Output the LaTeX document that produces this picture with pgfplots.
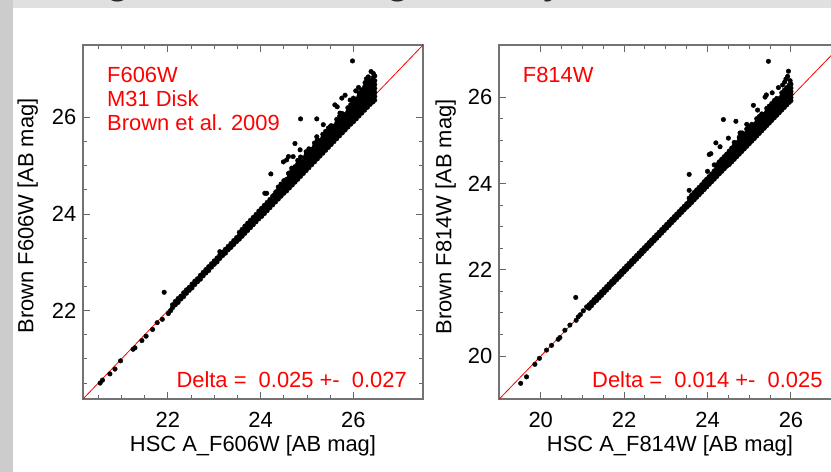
\documentclass[border=0pt]{standalone}
\usepackage{pgfplots}
\pgfplotsset{compat=1.18}
\usepackage{pgfplotstable}
\usepackage{fontspec}
\setmainfont{Liberation Sans}

% Left panel (F606W): dense band, columns = rows of the band (nan = empty)
\pgfplotstableread{
x a b c d e f g
22.10 22.06 22.12 nan nan nan nan nan
22.16 22.12 22.19 nan nan nan nan nan
22.22 22.17 22.25 nan nan nan nan nan
22.28 22.24 22.30 nan nan nan nan nan
22.34 22.29 22.37 nan nan nan nan nan
22.40 22.36 22.43 nan nan nan nan nan
22.46 22.42 22.48 nan nan nan nan nan
22.52 22.47 22.55 nan nan nan nan nan
22.58 22.54 22.61 nan nan nan nan nan
22.64 22.60 22.66 nan nan nan nan nan
22.70 22.65 22.73 nan nan nan nan nan
22.76 22.72 22.79 nan nan nan nan nan
22.82 22.78 22.85 nan nan nan nan nan
22.88 22.83 22.91 nan nan nan nan nan
22.94 22.90 22.97 nan nan nan nan nan
23.00 22.96 23.03 nan nan nan nan nan
23.06 23.01 23.09 nan nan nan nan nan
23.12 23.08 23.15 nan nan nan nan nan
23.18 23.14 23.21 nan nan nan nan nan
23.24 23.19 23.27 nan nan nan nan nan
23.30 23.26 23.33 nan nan nan nan nan
23.36 23.31 23.39 nan nan nan nan nan
23.42 23.37 23.45 nan nan nan nan nan
23.48 23.43 23.51 nan nan nan nan nan
23.54 23.48 23.55 23.62 nan nan nan nan
23.60 23.54 23.61 23.68 nan nan nan nan
23.66 23.60 23.67 23.75 nan nan nan nan
23.72 23.66 23.73 23.81 nan nan nan nan
23.78 23.72 23.79 23.87 nan nan nan nan
23.84 23.78 23.85 23.93 nan nan nan nan
23.90 23.84 23.91 23.99 nan nan nan nan
23.96 23.90 23.97 24.06 nan nan nan nan
24.02 23.95 24.03 24.12 nan nan nan nan
24.08 24.01 24.09 24.18 nan nan nan nan
24.14 24.07 24.15 24.24 nan nan nan nan
24.20 24.13 24.21 24.30 nan nan nan nan
24.26 24.19 24.27 24.37 nan nan nan nan
24.32 24.25 24.33 24.43 nan nan nan nan
24.38 24.31 24.39 24.49 24.56 nan nan nan
24.44 24.37 24.45 24.55 24.62 nan nan nan
24.50 24.43 24.51 24.60 24.69 nan nan nan
24.56 24.48 24.56 24.64 24.72 nan nan nan
24.62 24.54 24.62 24.70 24.78 24.85 nan nan
24.68 24.60 24.68 24.76 24.84 24.91 nan nan
24.74 24.66 24.74 24.82 24.90 24.98 nan nan
24.80 24.72 24.80 24.88 24.96 25.04 25.11 nan
24.86 24.78 24.86 24.94 25.02 25.10 25.18 nan
24.92 24.84 24.92 25.00 25.08 25.16 nan nan
24.98 24.90 24.98 25.06 25.14 25.22 25.29 nan
25.04 24.96 25.04 25.12 25.20 25.28 25.35 nan
25.10 25.02 25.10 25.18 25.26 25.34 nan nan
25.16 25.08 25.16 25.24 25.32 25.40 25.47 nan
25.22 25.14 25.22 25.30 25.38 25.46 25.53 nan
25.28 25.20 25.28 25.36 25.44 25.52 nan nan
25.34 25.26 25.34 25.42 25.50 25.58 25.65 nan
25.40 25.32 25.40 25.48 25.56 25.64 25.71 nan
25.46 25.38 25.46 25.54 25.62 25.70 25.78 nan
25.52 25.44 25.52 25.60 25.68 25.76 25.83 nan
25.58 25.50 25.58 25.66 25.74 25.82 nan nan
25.64 25.56 25.64 25.72 25.80 25.88 25.96 nan
25.70 25.62 25.70 25.78 25.86 25.94 26.02 nan
25.76 25.68 25.76 25.84 25.92 26.00 26.08 nan
25.82 25.74 25.82 25.90 25.98 26.06 nan nan
25.88 25.80 25.88 25.96 26.04 26.12 26.20 nan
25.94 25.86 25.94 26.02 26.10 26.18 26.26 nan
26.00 25.91 26.00 26.08 26.16 26.24 26.32 26.40
26.06 25.97 26.06 26.14 26.22 26.30 26.38 nan
26.12 26.03 26.12 26.20 26.28 26.36 26.44 26.51
26.18 26.09 26.18 26.26 26.34 26.42 26.50 26.57
26.24 26.15 26.24 26.32 26.40 26.48 26.56 26.63
26.30 26.21 26.30 26.38 26.46 26.54 26.62 26.70
26.36 26.27 26.36 26.44 26.52 26.60 26.68 26.76
26.42 26.32 26.40 26.48 26.56 26.64 26.72 26.82
26.46 26.36 26.44 26.52 26.60 26.68 26.76 26.86
}\leftband

% Right panel (F814W)
\pgfplotstableread{
x a b c d e f
21.16 21.11 21.19 nan nan nan nan
21.22 21.17 21.25 nan nan nan nan
21.28 21.24 21.31 nan nan nan nan
21.34 21.29 21.37 nan nan nan nan
21.40 21.35 21.43 nan nan nan nan
21.46 21.41 21.49 nan nan nan nan
21.52 21.47 21.55 nan nan nan nan
21.58 21.53 21.61 nan nan nan nan
21.64 21.59 21.67 nan nan nan nan
21.70 21.66 21.73 nan nan nan nan
21.76 21.71 21.79 nan nan nan nan
21.82 21.77 21.85 nan nan nan nan
21.88 21.83 21.91 nan nan nan nan
21.94 21.89 21.97 nan nan nan nan
22.00 21.95 22.03 nan nan nan nan
22.06 22.01 22.09 nan nan nan nan
22.12 22.07 22.15 nan nan nan nan
22.18 22.13 22.21 nan nan nan nan
22.24 22.19 22.27 nan nan nan nan
22.30 22.25 22.33 nan nan nan nan
22.36 22.31 22.39 nan nan nan nan
22.42 22.37 22.45 nan nan nan nan
22.48 22.43 22.51 nan nan nan nan
22.54 22.49 22.57 nan nan nan nan
22.60 22.55 22.63 nan nan nan nan
22.66 22.61 22.69 nan nan nan nan
22.72 22.67 22.75 nan nan nan nan
22.78 22.73 22.81 nan nan nan nan
22.84 22.79 22.87 nan nan nan nan
22.90 22.85 22.93 nan nan nan nan
22.96 22.91 22.99 nan nan nan nan
23.02 22.97 23.05 nan nan nan nan
23.08 23.03 23.11 nan nan nan nan
23.14 23.09 23.17 nan nan nan nan
23.20 23.15 23.23 nan nan nan nan
23.26 23.21 23.29 nan nan nan nan
23.32 23.27 23.35 nan nan nan nan
23.38 23.33 23.41 nan nan nan nan
23.44 23.39 23.47 nan nan nan nan
23.50 23.45 23.53 nan nan nan nan
23.56 23.50 23.58 23.66 nan nan nan
23.62 23.56 23.64 23.73 nan nan nan
23.68 23.62 23.70 23.79 nan nan nan
23.74 23.68 23.76 23.85 nan nan nan
23.80 23.74 23.82 23.91 nan nan nan
23.86 23.80 23.88 23.97 nan nan nan
23.92 23.86 23.94 24.04 nan nan nan
23.98 23.92 24.00 24.10 nan nan nan
24.04 23.98 24.06 24.16 nan nan nan
24.10 24.04 24.12 24.22 nan nan nan
24.16 24.10 24.18 24.29 nan nan nan
24.22 24.16 24.24 24.35 24.43 nan nan
24.28 24.22 24.30 24.41 24.50 nan nan
24.34 24.28 24.36 24.47 24.56 nan nan
24.40 24.34 24.42 24.52 24.62 nan nan
24.46 24.40 24.48 24.58 24.68 nan nan
24.52 24.44 24.52 24.60 24.68 24.75 nan
24.58 24.50 24.58 24.66 24.74 24.82 nan
24.64 24.56 24.64 24.72 24.80 24.88 24.95
24.70 24.62 24.70 24.78 24.86 24.94 nan
24.76 24.68 24.76 24.84 24.92 25.00 25.07
24.82 24.74 24.82 24.90 24.98 25.06 25.14
24.88 24.80 24.88 24.96 25.04 25.12 nan
24.94 24.86 24.94 25.02 25.10 25.18 25.26
25.00 24.92 25.00 25.08 25.16 25.24 25.31
25.06 24.98 25.06 25.14 25.22 25.30 25.37
25.12 25.04 25.12 25.20 25.28 25.36 nan
25.18 25.10 25.18 25.26 25.34 25.42 25.50
25.24 25.16 25.24 25.32 25.40 25.48 25.55
25.30 25.22 25.30 25.38 25.46 25.54 25.61
25.36 25.28 25.36 25.44 25.52 25.60 nan
25.42 25.34 25.42 25.50 25.58 25.66 25.74
25.48 25.40 25.48 25.56 25.64 25.72 25.79
25.54 25.46 25.54 25.62 25.70 25.78 25.85
25.60 25.52 25.60 25.68 25.76 25.84 25.92
25.66 25.58 25.66 25.74 25.82 25.90 25.97
25.72 25.64 25.72 25.80 25.88 25.96 nan
25.78 25.70 25.78 25.86 25.94 26.02 26.10
25.84 25.76 25.84 25.92 26.00 26.08 26.16
25.90 25.82 25.90 25.98 26.06 26.14 26.22
25.96 25.88 25.96 26.04 26.12 26.20 26.28
26.00 25.92 25.99 26.06 26.13 26.21 26.30
}\rightband

\pgfplotsset{
  panel/.style={
    scale only axis,
    height=354bp,
    xtick={20,22,24,26}, ytick={20,22,24,26},
    minor tick num=3,
    tick align=inside,
    major tick length=7bp, minor tick length=4bp,
    axis line style={draw=black!55, line width=1.8bp},
    every tick/.style={draw=black!60, line width=1bp},
    tick label style={font=\fontsize{22}{26}\selectfont, text=black},
    /pgf/number format/assume math mode=true,
    xticklabel style={anchor=base, yshift=-28.5bp},
    yticklabel style={anchor=east, inner sep=0pt, xshift=-6.5bp},
    label style={font=\fontsize{22}{26}\selectfont, text=black},
    xlabel style={at={(axis description cs:0.5,-0.147)}, anchor=base},
    axis background/.style={fill=white},
  },
  pts/.style={only marks, mark=*, mark size=2.3bp, black, mark options={fill=black, draw=black}},
}
\tikzset{redtxt/.style={text=red, font=\fontsize{22}{26}\selectfont, inner sep=0pt}}

\begin{document}
\begin{tikzpicture}[x=1bp,y=1bp]
\path[use as bounding box] (0,0) rectangle (831bp,472bp);
\clip (0,0) rectangle (831bp,472bp);
\fill[black!12!white] (0,0) rectangle (831bp,472bp);
\fill[black!20!white] (0,0) rectangle (13bp,472bp);
\fill[white] (13bp,0) rectangle (831bp,464bp);
\node[anchor=base, font=\fontsize{46}{46}\selectfont, text=black!85, inner sep=0pt] at (118bp,479bp) {g};
\node[anchor=base, font=\fontsize{46}{46}\selectfont, text=black!85, inner sep=0pt] at (398bp,479bp) {g};
\node[anchor=base, font=\fontsize{46}{46}\selectfont, text=black!85, inner sep=0pt] at (555bp,479bp) {y};

% ---------------- Left panel ----------------
\begin{axis}[panel, at={(83bp,73bp)}, anchor=south west, width=340bp,
  xmin=20.17, xmax=27.5, ymin=20.17, ymax=27.5,
  xlabel={HSC A\_F606W [AB mag]}, ylabel={Brown F606W [AB mag]},
  ylabel style={at={(axis description cs:-0.1456,0.517)}, anchor=base}]
\addplot[pts] coordinates {
 (20.54,20.50) (20.59,20.56) (20.75,20.69) (20.86,20.79) (20.98,20.96)
 (21.25,21.20) (21.29,21.23) (21.44,21.38) (21.53,21.47) (21.67,21.61)
 (21.77,21.75) (21.88,21.82) (22.01,21.94) (22.06,22.00) (21.92,22.38)
 (23.12,23.22) (24.13,24.43) (24.29,24.39) (24.09,24.43) (24.33,24.46)
 (24.22,24.83) (24.60,24.84) (24.67,24.95) (24.49,25.08) (24.56,25.12)
 (24.60,25.19) (24.70,25.19) (24.85,25.33) (24.74,25.46) (24.86,25.97)
 (25.21,25.97) (25.21,25.60) (25.50,25.81) (25.35,25.85) (25.71,26.09)
 (25.60,26.26) (25.65,26.22) (25.75,26.40) (25.82,26.46) (25.93,26.36)
 (26.05,26.55) (26.11,26.62) (26.25,26.72) (26.29,26.71) (26.32,26.84)
 (26.28,26.80) (26.38,26.95) (26.43,26.91) (25.98,27.17)
};
\addplot[pts] table[x=x, y=a] {\leftband};
\addplot[pts] table[x=x, y=b] {\leftband};
\addplot[pts] table[x=x, y=c] {\leftband};
\addplot[pts] table[x=x, y=d] {\leftband};
\addplot[pts] table[x=x, y=e] {\leftband};
\addplot[pts] table[x=x, y=f] {\leftband};
\addplot[pts] table[x=x, y=g] {\leftband};
\addplot[red, line width=0.8bp] coordinates {(20.17,20.17) (27.5,27.5)};
\node[redtxt, anchor=base west] at (axis description cs:0.0706,0.8935) {F606W};
\node[redtxt, anchor=base west] at (axis description cs:0.0706,0.8265) {M31 Disk};
\node[redtxt, anchor=base west] at (axis description cs:0.0706,0.7595) {Brown et al. 2009};
\node[redtxt, anchor=base east] at (axis description cs:0.953,0.033) {Delta =\ \ 0.025 +-\ \ 0.027};
\end{axis}

% ---------------- Right panel ----------------
\begin{axis}[panel, at={(499bp,72.7bp)}, anchor=south west, width=342bp,
  xmin=19, xmax=27.2, ymin=19, ymax=27.2,
  xlabel={HSC A\_F814W [AB mag]}, ylabel={Brown F814W [AB mag]},
  ylabel style={at={(axis description cs:-0.139,0.515)}, anchor=base}]
\addplot[pts] coordinates {
 (19.52,19.37) (19.66,19.52) (19.86,19.81) (19.97,19.95) (20.14,20.14)
 (20.26,20.25) (20.42,20.39) (20.46,20.43) (20.58,20.60) (20.70,20.72)
 (20.85,20.83) (20.90,20.91) (20.95,20.96) (21.02,21.05) (21.10,21.14)
 (20.84,21.36)
 (23.56,23.84) (23.56,24.21) (24.00,24.28) (24.04,24.67) (24.16,24.43)
 (24.08,24.69) (24.20,24.94) (24.30,24.85) (24.50,25.05) (24.78,25.17)
 (24.83,25.17) (24.94,25.37) (24.68,25.44) (24.38,25.48) (25.20,25.70)
 (25.10,25.81) (25.38,26.00) (25.41,26.05) (25.55,26.10) (25.70,26.22)
 (25.80,26.28) (25.85,26.35) (25.98,26.38) (25.88,26.42) (25.92,26.48)
 (25.94,26.60) (25.46,26.83)
};
\addplot[pts] table[x=x, y=a] {\rightband};
\addplot[pts] table[x=x, y=b] {\rightband};
\addplot[pts] table[x=x, y=c] {\rightband};
\addplot[pts] table[x=x, y=d] {\rightband};
\addplot[pts] table[x=x, y=e] {\rightband};
\addplot[pts] table[x=x, y=f] {\rightband};
\addplot[red, line width=0.8bp] coordinates {(19,19) (27.2,27.2)};
\node[redtxt, anchor=base west] at (axis description cs:0.0693,0.895) {F814W};
\node[redtxt, anchor=base east] at (axis description cs:0.9465,0.0327) {Delta =\ \ 0.014 +-\ \ 0.025};
\end{axis}
\end{tikzpicture}
\end{document}
